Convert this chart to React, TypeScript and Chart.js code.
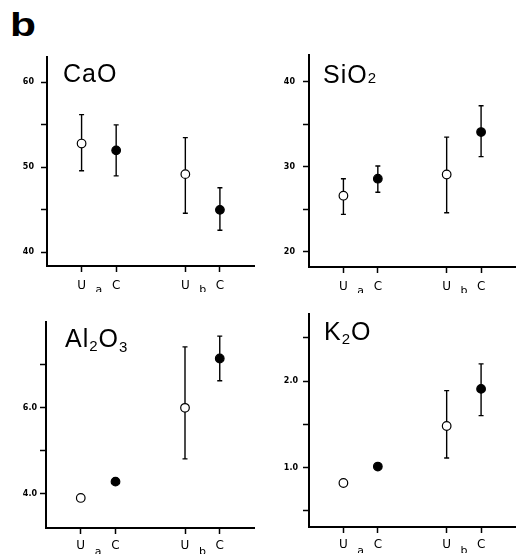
import React, { useEffect, useRef } from 'react';
import { Chart, registerables } from 'chart.js';

Chart.register(...registerables);

// ---------- data ----------
const xLabels = ['U', 'C', 'U', 'C'];
const xValues = [1, 2, 4, 5];
const groupLabels = ['a', 'b'];
const groupCenters = [1.5, 4.5];
const markerFills = ['#ffffff', '#000000', '#ffffff', '#000000'];

const caoMean = [52.8, 52.0, 49.2, 45.0];
const caoHigh = [56.2, 55.0, 53.5, 47.6];
const caoLow = [49.6, 49.0, 44.6, 42.6];
const caoTicks = [40, 45, 50, 55, 60];
const caoTickLabels = ['40', '', '50', '', '60'];

const sio2Mean = [26.6, 28.6, 29.1, 34.1];
const sio2High = [28.6, 30.1, 33.5, 37.2];
const sio2Low = [24.4, 27.0, 24.6, 31.2];
const sio2Ticks = [20, 25, 30, 35, 40];
const sio2TickLabels = ['20', '', '30', '', '40'];

const al2o3Mean = [3.9, 4.28, 6.0, 7.15];
const al2o3High = [null, null, 7.42, 7.67];
const al2o3Low = [null, null, 4.81, 6.63];
const al2o3Ticks = [4, 5, 6, 7];
const al2o3TickLabels = ['4.0', '', '6.0', ''];

const k2oMean = [0.82, 1.01, 1.48, 1.91];
const k2oHigh = [null, null, 1.89, 2.2];
const k2oLow = [null, null, 1.11, 1.6];
const k2oTicks = [0.5, 1.0, 1.5, 2.0, 2.5];
const k2oTickLabels = ['', '1.0', '', '2.0', ''];

// title parts: [text, fontSize, dy]
const caoTitle: [string, number, number][] = [['CaO', 25, 0]];
const sio2Title: [string, number, number][] = [['SiO', 25, 0], ['2', 15, 0]];
const al2o3Title: [string, number, number][] = [['Al', 25, 0], ['2', 15, 4], ['O', 25, 0], ['3', 15, 5]];
const k2oTitle: [string, number, number][] = [['K', 25, 0], ['2', 15, 4], ['O', 25, 0]];

// ---------- layout ----------
type Panel = {
  mean: number[]; high: (number | null)[]; low: (number | null)[];
  ticks: number[]; tickLabels: string[]; ymin: number; ymax: number;
  title: [string, number, number][];
  left: number; top: number; right: number; bottom: number;
  yPad: number; xPad: number; titleDx: number; titleDy: number;
};

const panels: Panel[] = [
  { mean: caoMean, high: caoHigh, low: caoLow, ticks: caoTicks, tickLabels: caoTickLabels,
    ymin: 38.4, ymax: 63, title: caoTitle,
    left: 47, top: 53, right: 258, bottom: 266, yPad: 7, xPad: 7, titleDx: 16, titleDy: 25 },
  { mean: sio2Mean, high: sio2High, low: sio2Low, ticks: sio2Ticks, tickLabels: sio2TickLabels,
    ymin: 18.2, ymax: 43.2, title: sio2Title,
    left: 309, top: 50, right: 519, bottom: 267, yPad: 8, xPad: 7, titleDx: 14, titleDy: 28 },
  { mean: al2o3Mean, high: al2o3High, low: al2o3Low, ticks: al2o3Ticks, tickLabels: al2o3TickLabels,
    ymin: 3.2, ymax: 8.0, title: al2o3Title,
    left: 46, top: 322, right: 258, bottom: 528, yPad: 3, xPad: 5, titleDx: 19, titleDy: 25 },
  { mean: k2oMean, high: k2oHigh, low: k2oLow, ticks: k2oTicks, tickLabels: k2oTickLabels,
    ymin: 0.31, ymax: 2.78, title: k2oTitle,
    left: 309, top: 312, right: 519, bottom: 527, yPad: 5, xPad: 5, titleDx: 15, titleDy: 26 },
];

const Y_AXIS_W = 40;
const TOP_PAD = 8;
const X_AXIS_H = 26;
const RIGHT_PAD = 2;

function PanelChart({ p }: { p: Panel }) {
  const ref = useRef<HTMLCanvasElement | null>(null);
  const cl = p.left - Y_AXIS_W;
  const ct = p.top - TOP_PAD;
  const cw = p.right - cl + RIGHT_PAD;
  const ch = p.bottom - ct + X_AXIS_H;

  useEffect(() => {
    if (!ref.current) return;
    const errorBars = {
      id: 'errorBars',
      beforeDatasetsDraw(chart: any) {
        const ctx = chart.ctx;
        const xs = chart.scales.x;
        const ys = chart.scales.y;
        ctx.save();
        ctx.strokeStyle = '#000';
        ctx.lineWidth = 1.4;
        xValues.forEach((xv, i) => {
          const hi = p.high[i];
          const lo = p.low[i];
          if (hi == null || lo == null) return;
          const x = xs.getPixelForValue(xv);
          const y1 = ys.getPixelForValue(hi);
          const y2 = ys.getPixelForValue(lo);
          ctx.beginPath();
          ctx.moveTo(x, y1);
          ctx.lineTo(x, y2);
          ctx.moveTo(x - 2.5, y1);
          ctx.lineTo(x + 2.5, y1);
          ctx.moveTo(x - 2.5, y2);
          ctx.lineTo(x + 2.5, y2);
          ctx.stroke();
        });
        ctx.restore();
      },
    };
    const labels = {
      id: 'panelLabels',
      afterDraw(chart: any) {
        const ctx = chart.ctx;
        const xs = chart.scales.x;
        const area = chart.chartArea;
        ctx.save();
        ctx.fillStyle = '#000';
        // group letters
        ctx.font = '11px "DejaVu Sans"';
        ctx.textAlign = 'center';
        ctx.textBaseline = 'alphabetic';
        groupLabels.forEach((g, i) => {
          ctx.fillText(g, xs.getPixelForValue(groupCenters[i]), area.bottom + 27);
        });
        // title
        ctx.textAlign = 'left';
        let x = area.left + p.titleDx;
        const y = area.top + p.titleDy;
        (ctx as any).letterSpacing = '1px';
        p.title.forEach(([t, size, dy]) => {
          ctx.font = `${size}px "Liberation Sans"`;
          ctx.fillText(t, x, y + dy);
          x += ctx.measureText(t).width;
        });
        ctx.restore();
      },
    };
    const chart = new Chart(ref.current, {
      type: 'scatter',
      data: {
        datasets: [{
          data: xValues.map((x, i) => ({ x, y: p.mean[i] })),
          pointBackgroundColor: markerFills,
          pointBorderColor: '#000',
          pointBorderWidth: 1.2,
          pointRadius: 4.3,
          pointHoverRadius: 4.3,
          showLine: false,
        }],
      },
      options: {
        responsive: false,
        animation: false,
        devicePixelRatio: 1,
        events: [],
        layout: { padding: { top: TOP_PAD, right: RIGHT_PAD, left: 0, bottom: 0 } },
        plugins: { legend: { display: false }, tooltip: { enabled: false }, title: { display: false } },
        scales: {
          x: {
            type: 'linear', min: 0, max: 6,
            afterFit: (s: any) => { s.height = X_AXIS_H; },
            afterBuildTicks: (s: any) => { s.ticks = xValues.map((v) => ({ value: v })); },
            ticks: {
              autoSkip: false, maxRotation: 0, color: '#000', padding: p.xPad,
              font: { family: 'DejaVu Sans', size: 12 },
              callback: (_v: any, i: number) => xLabels[i],
            },
            grid: { drawOnChartArea: false, drawTicks: true, tickLength: 6, tickWidth: 1.5, tickColor: '#000' },
            border: { display: true, color: '#000', width: 2 },
          },
          y: {
            type: 'linear', min: p.ymin, max: p.ymax,
            afterFit: (s: any) => { s.width = Y_AXIS_W; },
            afterBuildTicks: (s: any) => { s.ticks = p.ticks.map((v) => ({ value: v })); },
            ticks: {
              autoSkip: false, color: '#000', padding: p.yPad,
              font: { family: 'DejaVu Sans', size: 8, weight: 'bold' },
              callback: (_v: any, i: number) => p.tickLabels[i],
            },
            grid: { drawOnChartArea: false, drawTicks: true, tickLength: 6, tickWidth: 1.5, tickColor: '#000' },
            border: { display: true, color: '#000', width: 2 },
          },
        },
      } as any,
      plugins: [errorBars, labels],
    });
    return () => chart.destroy();
  }, []);

  return (
    <canvas
      ref={ref}
      width={cw}
      height={ch}
      style={{ position: 'absolute', left: cl, top: ct, width: cw, height: ch }}
    />
  );
}

export default function App() {
  return (
    <div style={{ position: 'absolute', left: 0, top: 0, width: 521, height: 554, overflow: 'hidden', background: '#fff' }}>
      <div style={{
        position: 'absolute', left: 10, top: 5, fontFamily: '"Liberation Sans", Arial, sans-serif',
        fontWeight: 'bold', fontSize: 34, lineHeight: 'normal', transform: 'scaleX(1.25)', transformOrigin: 'left top', color: '#000',
      }}>b</div>
      {panels.map((p, i) => <PanelChart key={i} p={p} />)}
    </div>
  );
}
